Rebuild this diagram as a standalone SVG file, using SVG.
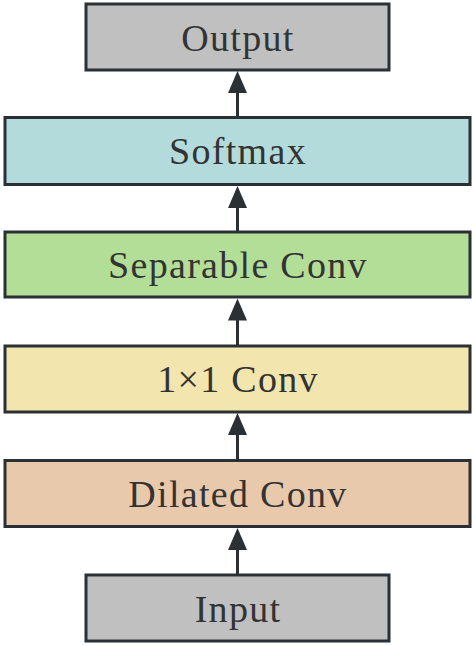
<svg xmlns="http://www.w3.org/2000/svg" width="475" height="646" viewBox="0 0 475 646">
<style>
.box{stroke:#2b3035;stroke-width:3}
.lbl{font-family:"Liberation Serif","Times New Roman",serif;font-size:38px;letter-spacing:1.3px;fill:#333333;text-anchor:middle}
.edge{stroke:#2b3035;stroke-width:3;fill:none}
.head{fill:#2b3035}
</style>
<rect width="475" height="646" fill="#ffffff"/>
<g id="connectors">
<line class="edge" x1="237.5" y1="117" x2="237.5" y2="90"/>
<polygon class="head" points="237.5,71 247,93 228,93"/>
<line class="edge" x1="237.5" y1="232" x2="237.5" y2="205"/>
<polygon class="head" points="237.5,186 247,208 228,208"/>
<line class="edge" x1="237.5" y1="346" x2="237.5" y2="318"/>
<polygon class="head" points="237.5,298.5 247,320.5 228,320.5"/>
<line class="edge" x1="237.5" y1="460" x2="237.5" y2="432"/>
<polygon class="head" points="237.5,413 247,435 228,435"/>
<line class="edge" x1="237.5" y1="575" x2="237.5" y2="547"/>
<polygon class="head" points="237.5,528 247,550 228,550"/>
</g>
<g id="output">
<rect class="box" x="86" y="4" width="303" height="66" fill="#c0c0c0"/>
<text class="lbl" x="238" y="51">Output</text>
</g>
<g id="softmax">
<rect class="box" x="5" y="117.5" width="465" height="67" fill="#b3dbdc"/>
<text class="lbl" x="238" y="164">Softmax</text>
</g>
<g id="separable">
<rect class="box" x="5" y="232" width="465" height="65" fill="#b3de98"/>
<text class="lbl" x="238" y="278">Separable Conv</text>
</g>
<g id="conv1x1">
<rect class="box" x="5" y="346" width="465" height="66" fill="#f2e5ad"/>
<text class="lbl" x="238" y="392">1×1 Conv</text>
</g>
<g id="dilated">
<rect class="box" x="5" y="460.5" width="465" height="66" fill="#e9c9ab"/>
<text class="lbl" x="238" y="507">Dilated Conv</text>
</g>
<g id="input">
<rect class="box" x="86" y="575" width="303" height="66" fill="#c0c0c0"/>
<text class="lbl" x="238" y="622">Input</text>
</g>
</svg>
